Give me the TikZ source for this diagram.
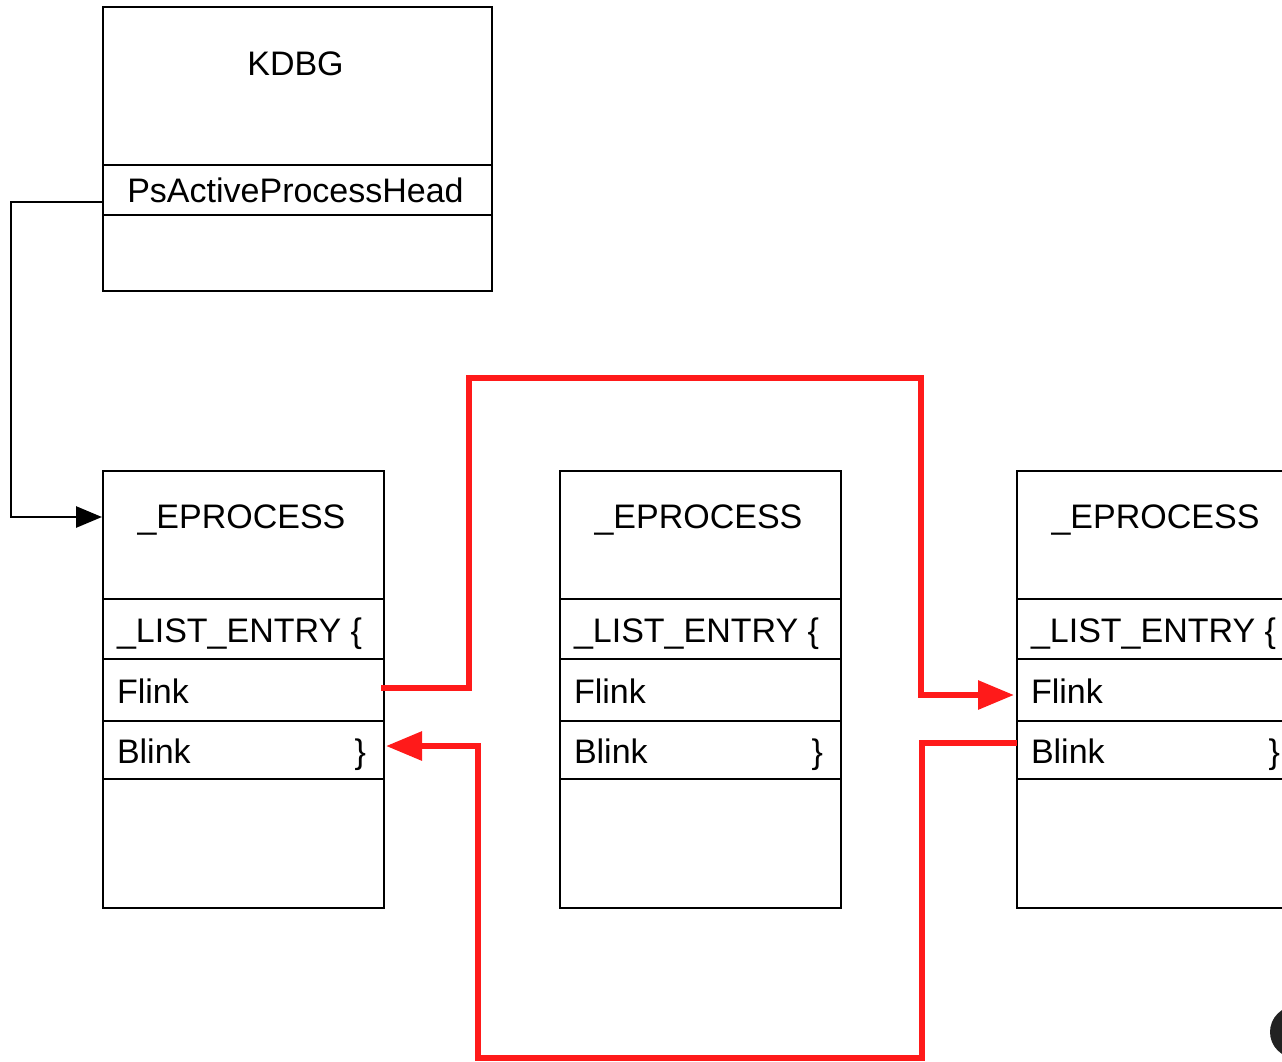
\documentclass[tikz,border=0pt]{standalone}
\usepackage{fontspec}
\setmainfont{Liberation Sans}
\usetikzlibrary{arrows.meta,calc}
\definecolor{linkred}{RGB}{255,26,26}
\definecolor{knobgray}{RGB}{34,34,34}

% one _EPROCESS record: #1 = name prefix, #2 = left x
\newcommand\eprocbox[2]{%
  \node[cell,minimum height=128pt] (#1-head)  at (#2,471) {};
  \node[cell,minimum height=60pt]  (#1-list)  at (#2,599) {};
  \node[cell,minimum height=62pt]  (#1-flink) at (#2,659) {};
  \node[cell,minimum height=58pt]  (#1-blink) at (#2,721) {};
  \node[cell,minimum height=129pt] (#1-rest)  at (#2,779) {};
  \node[txt,anchor=base] (#1-title) at ($(#1-head.north)+(-2,57)$) {\_EPROCESS};
  \node[txt,anchor=base west] (#1-le) at ($(#1-list.north west)+(14,43)$) {\_LIST\_ENTRY \{};
  \node[txt,anchor=base west] (#1-fl) at ($(#1-flink.north west)+(14,44)$) {Flink};
  \node[txt,anchor=base west] (#1-bl) at ($(#1-blink.north west)+(14,42)$) {Blink};
  \node[txt,anchor=base east] (#1-br) at ($(#1-blink.north east)+(-18,42)$) {\}};
}

\begin{document}
\begin{tikzpicture}[x=1pt,y=-1pt,
  cell/.style={draw=black,line width=2.8pt,minimum width=281pt,inner sep=0pt,outer sep=0pt,anchor=north west},
  wide/.style={cell,minimum width=389pt},
  txt/.style={inner sep=0pt,outer sep=0pt,font=\fontsize{34}{40}\selectfont},
  wire/.style={draw=black,line width=2.8pt,-{Triangle[length=26pt,width=21pt]}},
  link/.style={draw=linkred,line width=6pt,-{Triangle[length=36pt,width=28pt]}}]

\useasboundingbox (0,0) rectangle (1282,1061);
\clip (0,0) rectangle (1282,1061);

% KDBG block
\node[wide,minimum height=158pt] (kdbg-head) at (103,7) {};
\node[wide,minimum height=50pt]  (kdbg-ps)   at (103,165) {};
\node[wide,minimum height=76pt]  (kdbg-rest) at (103,215) {};
\node[txt,anchor=base] (kdbg-title) at ($(kdbg-head.north)+(-2,68)$) {KDBG};
\node[txt,anchor=base] (kdbg-pstext) at ($(kdbg-ps.north)+(-2,37)$) {PsActiveProcessHead};

% three process records
\eprocbox{p1}{103}
\eprocbox{p2}{560}
\eprocbox{p3}{1017}

% PsActiveProcessHead points at the first record
\coordinate (ps-out) at ([yshift=-12pt]kdbg-ps.west);
\coordinate (p1-in)  at ([xshift=-1pt,yshift=18pt]p1-head.west);
\draw[wire] (ps-out) -- (11,202) |- (p1-in);

% forward link: first Flink -> third Flink
\coordinate (f-out) at ([xshift=-3pt,yshift=2pt]p1-flink.east);
\coordinate (f-in)  at ([xshift=-3pt,yshift=-5pt]p3-flink.west);
\draw[link] (f-out) -| (469,378) -| (921,695) -- (f-in);

% backward link: third Blink -> first Blink
\coordinate (b-out) at ([yshift=7pt]p3-blink.west);
\coordinate (b-in)  at ([xshift=2pt,yshift=4pt]p1-blink.east);
\draw[link] (b-out) -| (922,1058) -| (478,746) -- (b-in);

% dark round button in the lower right corner
\fill[knobgray] (1296,1032) circle (26);
\end{tikzpicture}
\end{document}
